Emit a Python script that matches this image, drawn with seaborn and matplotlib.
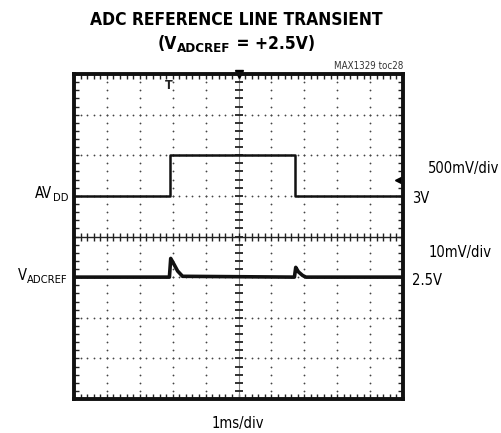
import numpy as np
import pandas as pd
import matplotlib
matplotlib.use("Agg")
import matplotlib.pyplot as plt
import seaborn as sns

# ---- data ----
time_ms_avdd = [0.0, 2.92, 2.92, 6.72, 6.72, 10.0]
avdd_volts = [3.0, 3.0, 3.5, 3.5, 3.0, 3.0]

time_ms_ref = [0.0, 2.90, 2.94, 3.05, 3.15, 3.30, 6.70, 6.74, 6.82, 6.95, 7.05, 10.0]
ref_dev_mV = [0.0, 0.0, 4.6, 3.0, 1.5, 0.2, 0.0, 2.4, 1.3, 0.4, 0.0, 0.0]

avdd_scale_v = 0.5     # 500mV/div
avdd_ref_level = 3.0   # 3V marker
avdd_offset_div = 5
ref_scale_mv = 10.0    # 10mV/div
ref_offset_div = 3

sns.set_theme(style="white")
plt.rcParams["font.family"] = ["DejaVu Sans"]
plt.rcParams["font.stretch"] = "condensed"
plt.rcParams["text.color"] = "black"

W, H = 501, 433
fig = plt.figure(figsize=(W / 100, H / 100), dpi=100)
ax = fig.add_axes([74 / W, 1 - 399 / H, 329 / W, 325 / H])

df_avdd = pd.DataFrame({
    "t": time_ms_avdd,
    "div": [avdd_offset_div + (v - avdd_ref_level) / avdd_scale_v for v in avdd_volts],
})
df_ref = pd.DataFrame({
    "t": time_ms_ref,
    "div": [ref_offset_div + m / ref_scale_mv for m in ref_dev_mV],
})

# ---- scope graticule ----
gc = "#444444"
xs = np.arange(0, 10.001, 0.2)
ys = np.arange(0, 8.001, 0.2)
for gx in range(1, 10):
    if gx == 5:
        continue
    ax.plot(np.full_like(ys, gx), ys, ls="none", marker="o", ms=1.3, color=gc, mec="none")
for gy in range(1, 8):
    if gy == 4:
        continue
    ax.plot(xs, np.full_like(xs, gy), ls="none", marker="o", ms=1.3, color=gc, mec="none")
ax.axvline(5, color="#888888", lw=0.8)
ax.axhline(4, color="#222222", lw=1.0)
ax.plot(np.full_like(ys, 5), ys, ls="none", marker="_", ms=6, mew=1.3, color="#222222")
ax.plot(xs, np.full_like(xs, 4), ls="none", marker="|", ms=6, mew=1.0, color="#222222")

# ---- traces ----
sns.lineplot(data=df_avdd, x="t", y="div", sort=False, estimator=None, ax=ax,
             color="#111111", lw=1.8)
sns.lineplot(data=df_ref, x="t", y="div", sort=False, estimator=None, ax=ax,
             color="#111111", lw=2.6)

# markers
ax.plot([5], [8], marker="v", ms=6, color="black", clip_on=False)
ax.plot([9.88], [5.38], marker="<", ms=6, color="black", clip_on=False)
ax.text(2.88, 7.72, "T", fontsize=9, fontweight="bold", ha="center", va="center",
        color="#222222")

ax.set_xlim(0, 10)
ax.set_ylim(0, 8)
ax.set_xlabel("")
ax.set_ylabel("")
ax.set_xticks(range(11))
ax.set_yticks(range(9))
ax.set_xticks(xs, minor=True)
ax.set_yticks(ys, minor=True)
ax.set_xticklabels([])
ax.set_yticklabels([])
ax.tick_params(which="both", direction="in", top=True, right=True, left=True, bottom=True,
               length=3.5, width=1.0, color="#222222")
for s in ax.spines.values():
    s.set_linewidth(2.8)
    s.set_color("#111111")

# ---- texts ----
renderer = fig.canvas.get_renderer()


def rich(x_px, y_px, pieces, ha="left"):
    """pieces: list of (text, size, dy_px, weight); y_px is the main baseline."""
    objs = []
    for txt, size, dy, weight in pieces:
        t = fig.text(0, 1 - (y_px + dy) / H, txt, fontsize=size, fontweight=weight,
                     ha="left", va="baseline", color="black")
        objs.append(t)
    widths = [o.get_window_extent(renderer).width for o in objs]
    total = sum(widths)
    if ha == "center":
        start = x_px - total / 2
    elif ha == "right":
        start = x_px - total
    else:
        start = x_px
    cur = start
    for o, w in zip(objs, widths):
        o.set_x(cur / W)
        cur += w


rich(236, 25, [("ADC REFERENCE LINE TRANSIENT", 12.5, 0, "bold")], ha="center")
rich(236.5, 49, [("(V", 12.5, 0, "bold"), ("ADCREF", 9.5, 3, "bold"),
                 (" = +2.5V)", 12.5, 0, "bold")], ha="center")
fig.text(403 / W, 1 - 69 / H, "MAX1329 toc28", ha="right", va="baseline",
         fontsize=7, color="#333333")
rich(428, 173, [("500mV/div", 10.5, 0, "normal")])
rich(412, 203, [("3V", 10.5, 0, "normal")])
rich(429, 257, [("10mV/div", 10.5, 0, "normal")])
rich(412, 285, [("2.5V", 10.5, 0, "normal")])
rich(68, 198, [("AV", 10.5, 0, "normal"), ("DD", 8, 3, "normal")], ha="right")
rich(68, 280, [("V", 10.5, 0, "normal"), ("ADCREF", 8, 3, "normal")], ha="right")
rich(238, 428, [("1ms/div", 10.5, 0, "normal")], ha="center")

fig.savefig("out.png", dpi=100)
